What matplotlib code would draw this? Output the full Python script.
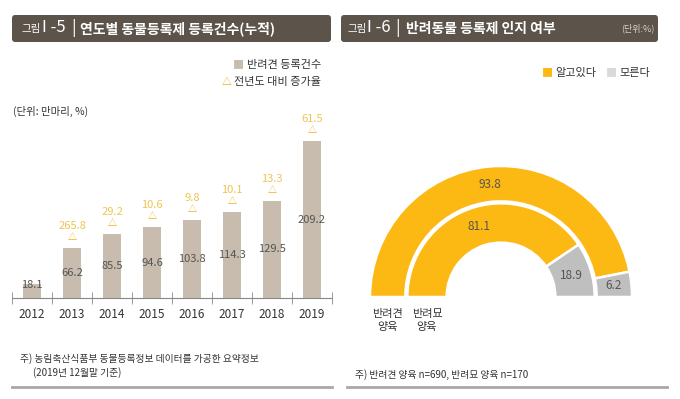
import matplotlib
matplotlib.use('Agg')
import numpy as np
from matplotlib import pyplot as plt
from matplotlib.patches import FancyBboxPatch
from matplotlib.lines import Line2D
from matplotlib.transforms import Affine2D

plt.rcParams['font.family'] = ['Noto Sans CJK KR', 'DejaVu Sans']

# 그림 I-5 데이터
years = ['2012', '2013', '2014', '2015', '2016', '2017', '2018', '2019']
dog_regs = [18.1, 66.2, 85.5, 94.6, 103.8, 114.3, 129.5, 209.2]
growth = [None, 265.8, 29.2, 10.6, 9.8, 10.1, 13.3, 61.5]

# 그림 I-6 데이터
groups = ['반려견\n양육', '반려묘\n양육']
know = [93.8, 81.1]
dont_know = [6.2, 18.9]

BOX = '#5c544b'
BAR = '#c8bcae'
GOLD = '#e9b320'
GOLD_TXT = '#efc451'
ORANGE = '#fcb813'
GRAY = '#bfbfbf'
TXT = '#555555'

W, H = 680, 399
fig = plt.figure(figsize=(W / 100, H / 100), dpi=100)
# pixel coords, origin top-left
P = Affine2D().scale(1, -1).translate(0, H).scale(1 / 100) + fig.dpi_scale_trans


def ax_rect(x0, y_bottom, w, h):
    return [x0 / W, (H - y_bottom) / H, w / W, h / H]


def header(x0, x1, y0, y1):
    box = FancyBboxPatch((x0, y0), x1 - x0, y1 - y0, boxstyle='round,pad=0,rounding_size=3',
                         transform=P, facecolor=BOX, edgecolor='none')
    fig.add_artist(box)


def text(x, y, s, **kw):
    kw.setdefault('va', 'center')
    return fig.text(x, y, s, transform=P, **kw)


def rule(x0, x1, y):
    fig.add_artist(Line2D([x0, x1], [y, y], transform=P, color='#a8a8a8', lw=2))


# ---------------- left panel ----------------
header(12, 331, 15, 42)
text(22, 29, '그림', color='white', fontsize=7.5)
text(42, 28, 'I -5', color='white', fontsize=12)
text(71, 28, '|', color='white', fontsize=12)
text(80, 28.5, '연도별 동물등록제 등록건수(누적)', color='white', fontsize=10, fontweight='bold')

text(321, 65, '반려견 등록건수', ha='right', color='#333333', fontsize=8)
text(244, 65, '■', ha='right', color=BAR, fontsize=8)
text(321, 82, '전년도 대비 증가율', ha='right', color='#333333', fontsize=8)
text(231, 82, '△', ha='right', color=GOLD, fontsize=7, fontweight='bold')
text(13, 111, '(단위: 만마리, %)', color='#333333', fontsize=7.5)

ax = fig.add_axes(ax_rect(12, 298, 320, 180))
x = np.arange(len(years))
ax.bar(x, dog_regs, width=0.45, color=BAR)
ax.set_xlim(-0.5, len(years) - 0.5)
ax.set_ylim(0, 240)
for i, v in enumerate(dog_regs):
    ax.text(i, max(v / 2, 17), f'{v}', ha='center', va='center', color=TXT, fontsize=8)
    if growth[i] is not None:
        ax.annotate('△', (i, v), xytext=(0, 7.5), textcoords='offset points',
                    ha='center', va='center', color=GOLD, fontsize=6.5, fontweight='bold')
        ax.annotate(f'{growth[i]}', (i, v), xytext=(0, 16), textcoords='offset points',
                    ha='center', va='center', color=GOLD_TXT, fontsize=8)
for s in ['top', 'right', 'left']:
    ax.spines[s].set_visible(False)
ax.spines['bottom'].set_color('#888888')
ax.set_yticks([])
ax.set_xticks(x)
ax.set_xticklabels(years, fontsize=8.5, color='#333333')
ax.tick_params(axis='x', which='major', length=0, pad=7)
ax.set_xticks(np.arange(-0.5, len(years)), minor=True)
ax.tick_params(axis='x', which='minor', length=9, direction='inout', color='#888888')

text(20, 359, '주) 농림축산식품부 동물등록정보 데이터를 가공한 요약정보', color='#333333', fontsize=7)
text(33, 373, '(2019년 12월말 기준)', color='#333333', fontsize=7)
rule(12, 332, 387)

# ---------------- right panel ----------------
header(341, 658, 15, 42)
text(348, 29, '그림', color='white', fontsize=7.5)
text(367, 28, 'I -6', color='white', fontsize=12)
text(395, 28, '|', color='white', fontsize=12)
text(406, 28.5, '반려동물 등록제 인지 여부', color='white', fontsize=10, fontweight='bold')
text(655, 28, '(단위:%)', ha='right', color='#d8d2cb', fontsize=6.5)

text(553, 73, '■', ha='right', color=ORANGE, fontsize=8)
text(555, 73, '알고있다', color='#333333', fontsize=8)
text(617, 73, '■', ha='right', color='#d9d9d9', fontsize=8)
text(619, 73, '모른다', color='#333333', fontsize=8)

R = 131.0
cx, cy = 501, 297
ax2 = fig.add_axes(ax_rect(cx - 1.1 * R, cy + 0.15 * R, 2.2 * R, 1.25 * R))
rings = [(1.0, 0.27), (0.715, 0.30)]
for k, (rad, wd) in enumerate(rings):
    wedges, _ = ax2.pie([know[k], dont_know[k], 100], radius=rad, startangle=180,
                        counterclock=False, colors=[ORANGE, GRAY, 'white'],
                        wedgeprops=dict(width=wd, edgecolor='white', linewidth=1.8))
    wedges[2].set_visible(False)
    for w, v in zip(wedges[:2], [know[k], dont_know[k]]):
        ang = np.deg2rad((w.theta1 + w.theta2) / 2)
        rm = rad - wd / 2
        ax2.text(rm * np.cos(ang), rm * np.sin(ang), f'{v}', ha='center', va='center',
                 color=TXT, fontsize=8.5)
    ax2.text(-(rad - wd / 2), -0.18, groups[k], ha='center', va='center',
             color='#333333', fontsize=8, linespacing=1.3)
ax2.set_xlim(-1.1, 1.1)
ax2.set_ylim(-0.15, 1.1)
ax2.axis('off')

text(355, 375, '주) 반려견 양육 n=690, 반려묘 양육 n=170', color='#333333', fontsize=7)
rule(347, 667, 387)

fig.savefig('out.png', dpi=100)
